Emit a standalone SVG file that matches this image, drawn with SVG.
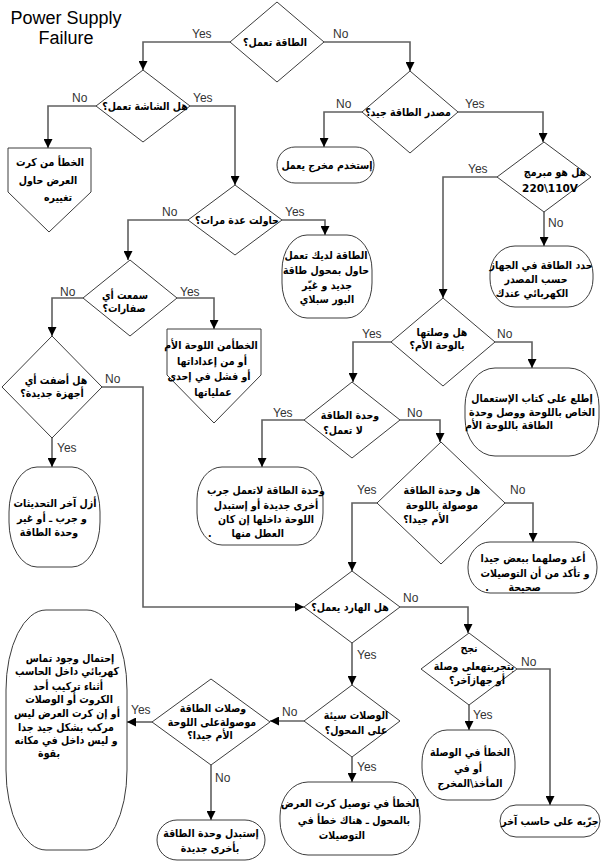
<svg xmlns="http://www.w3.org/2000/svg" width="602" height="863" viewBox="0 0 602 863">
<defs>
<marker id="arr" viewBox="0 0 10 10" refX="10" refY="5" markerWidth="9" markerHeight="9" orient="auto" markerUnits="userSpaceOnUse"><path d="M0,0 L10,5 L0,10 z" fill="#000"/></marker>
<style>
.s{fill:#fff;stroke:#3c3c3c;stroke-width:1}
.c{fill:none;stroke:#606060;stroke-width:1.6;marker-end:url(#arr)}
.l{font-family:"Liberation Sans",Arial,sans-serif;font-size:12px;fill:#333}
.t{font-family:"DejaVu Sans",sans-serif;font-size:11px;font-weight:bold;fill:#000;text-anchor:middle}
.ltr{font-size:10.5px}
.ti{font-family:"Liberation Sans",Arial,sans-serif;font-size:18px;fill:#000;text-anchor:middle}
</style>
</defs>
<rect width="602" height="863" fill="#fff"/>
<g id="title">
<text class="ti" x="66" y="24">Power Supply</text>
<text class="ti" x="66" y="44">Failure</text>
</g>
<g id="connectors">
<path class="c" d="M230,42 H143 V70"/>
<path class="c" d="M324,42 H410 V71"/>
<path class="c" d="M96,106 H48 V148"/>
<path class="c" d="M190,106 H235 V185"/>
<path class="c" d="M362,112 H324 V147"/>
<path class="c" d="M458,112 H543 V142"/>
<path class="c" d="M188,220 H128 V260"/>
<path class="c" d="M282,220 H325 V235"/>
<path class="c" d="M497,177 H443 V298"/>
<path class="c" d="M544,212 V246"/>
<path class="c" d="M83,298 H52 V336"/>
<path class="c" d="M177,298 H214 V329"/>
<path class="c" d="M52,438 V467"/>
<path class="c" d="M102,387 H143 V607 H304"/>
<path class="c" d="M391,342 H353 V382"/>
<path class="c" d="M495,342 H532 V368"/>
<path class="c" d="M304,420 H262 V467"/>
<path class="c" d="M400,420 H440 V442"/>
<path class="c" d="M377,503 H352 V571"/>
<path class="c" d="M505,503 H533 V542"/>
<path class="c" d="M400,607 H468 V633"/>
<path class="c" d="M352,643 V685"/>
<path class="c" d="M517,669 H550 V805"/>
<path class="c" d="M469,705 V730"/>
<path class="c" d="M304,721 H270"/>
<path class="c" d="M352,757 V782"/>
<path class="c" d="M152,722 H127"/>
<path class="c" d="M211,765 V820"/>
<text class="l" x="192" y="38">Yes</text>
<text class="l" x="333" y="38">No</text>
<text class="l" x="72" y="102">No</text>
<text class="l" x="193" y="102">Yes</text>
<text class="l" x="336" y="108">No</text>
<text class="l" x="465" y="108">Yes</text>
<text class="l" x="468" y="173">Yes</text>
<text class="l" x="548" y="227">No</text>
<text class="l" x="162" y="216">No</text>
<text class="l" x="285" y="216">Yes</text>
<text class="l" x="60" y="296">No</text>
<text class="l" x="180" y="296">Yes</text>
<text class="l" x="105" y="383">No</text>
<text class="l" x="57" y="452">Yes</text>
<text class="l" x="362" y="338">Yes</text>
<text class="l" x="497" y="338">No</text>
<text class="l" x="273" y="417">Yes</text>
<text class="l" x="407" y="417">No</text>
<text class="l" x="357" y="494">Yes</text>
<text class="l" x="510" y="494">No</text>
<text class="l" x="403" y="602">No</text>
<text class="l" x="357" y="659">Yes</text>
<text class="l" x="521" y="666">No</text>
<text class="l" x="473" y="719">Yes</text>
<text class="l" x="282" y="716">No</text>
<text class="l" x="357" y="771">Yes</text>
<text class="l" x="131" y="714">Yes</text>
<text class="l" x="215" y="782">No</text>
</g>
<g id="d1"><polygon class="s" points="277,2 324,42 277,82 230,42"/><text class="t" transform="translate(275 46) scale(.86 1)">الطاقة تعمل؟</text></g>
<g id="d2"><polygon class="s" points="143,70 190,106 143,142 96,106"/><text class="t" transform="translate(145 110) scale(.86 1)">هل الشاشة تعمل؟</text></g>
<g id="d3"><polygon class="s" points="410,71 458,112 410,153 362,112"/><text class="t" transform="translate(408 116) scale(.86 1)">مصدر الطاقة جيد؟</text></g>
<g id="b1"><path class="s" d="M8,148 H91 V192 L49,232 L8,192 Z"/><text class="t" transform="translate(50 166) scale(.86 1)">الخطأ من كرت</text><text class="t" transform="translate(48 184) scale(.86 1)">العرض حاول</text><text class="t" transform="translate(58 201) scale(.86 1)">تغييره</text></g>
<g id="r1"><rect class="s" x="277" y="147" width="97" height="36" rx="18"/><text class="t" transform="translate(327 169) scale(.86 1)">إستخدم مخرج يعمل</text></g>
<g id="d5"><polygon class="s" points="544,142 591,177 544,212 497,177"/><text class="t" transform="translate(555 176) scale(.86 1)">هل هو مبرمج</text><text class="t ltr" x="550" y="192">220\110V</text></g>
<g id="r2"><rect class="s" x="490" y="246" width="103" height="61" rx="25" ry="28"/><text class="t" transform="translate(541 269) scale(.86 1)">حدد الطاقة في الجهاز</text><text class="t" transform="translate(536 283) scale(.86 1)">حسب المصدر</text><text class="t" transform="translate(532 297) scale(.86 1)">الكهربائي عندك</text></g>
<g id="d4"><polygon class="s" points="235,185 282,220 235,255 188,220"/><text class="t" transform="translate(237 224) scale(.86 1)">حاولت عدة مرات؟</text></g>
<g id="r3"><rect class="s" x="282" y="235" width="90" height="83" rx="25" ry="35"/><text class="t" transform="translate(326 259) scale(.86 1)">الطاقة لديك تعمل</text><text class="t" transform="translate(326 274) scale(.86 1)">حاول بمحول طاقة</text><text class="t" transform="translate(327 289) scale(.86 1)">جديد و غيّر</text><text class="t" transform="translate(327 303) scale(.86 1)">البور سبلاي</text></g>
<g id="d7"><polygon class="s" points="130,260 177,298 130,336 83,298"/><text class="t" transform="translate(125 299) scale(.86 1)">سمعت أي</text><text class="t" transform="translate(124 312) scale(.86 1)">صفارات؟</text></g>
<g id="b2"><path class="s" d="M167,329 H261 V375 L214,423 L167,375 Z"/><text class="t" transform="translate(211 349) scale(.86 1)">الخطأمن اللوحة الأم</text><text class="t" transform="translate(212 365) scale(.86 1)">أو من إعداداتها</text><text class="t" transform="translate(209 380) scale(.86 1)">أو فشل في إحدى</text><text class="t" transform="translate(213 396) scale(.86 1)">عملياتها</text></g>
<g id="d8"><polygon class="s" points="52,336 102,387 52,438 2,387"/><text class="t" transform="translate(56 384) scale(.86 1)">هل أضفت أي</text><text class="t" transform="translate(52 397) scale(.86 1)">أجهزة جديدة؟</text></g>
<g id="r4"><rect class="s" x="9" y="467" width="91" height="100" rx="28" ry="45"/><text class="t" transform="translate(55 507) scale(.86 1)">أزل آخر التحديثات</text><text class="t" transform="translate(52 522) scale(.86 1)">و جرب ـ أو غير</text><text class="t" transform="translate(49 536) scale(.86 1)">وحدة الطاقة</text></g>
<g id="d6"><polygon class="s" points="443,298 495,342 443,386 391,342"/><text class="t" transform="translate(442 336) scale(.86 1)">هل وصلتها</text><text class="t" transform="translate(437 349) scale(.86 1)">بالوحة الأم؟</text></g>
<g id="r5"><rect class="s" x="465" y="368" width="134" height="88" rx="30" ry="38"/><text class="t" transform="translate(532 402) scale(.86 1)">إطلع على كتاب الإستعمال</text><text class="t" transform="translate(532 416) scale(.86 1)">الخاص باللوحة ووصل وحدة</text><text class="t" transform="translate(509 429) scale(.86 1)">الطاقة باللوحة الأم</text></g>
<g id="d9"><polygon class="s" points="352,382 400,420 352,458 304,420"/><text class="t" transform="translate(350 419) scale(.86 1)">وحدة الطاقة</text><text class="t" transform="translate(343 434) scale(.86 1)">لا تعمل؟</text></g>
<g id="r6"><rect class="s" x="197" y="467" width="126" height="78" rx="25" ry="32"/><text class="t" transform="translate(266 494) scale(.86 1)">وحدة الطاقة لاتعمل جرب</text><text class="t" transform="translate(266 509) scale(.86 1)">أخرى جديدة أو إستبدل</text><text class="t" transform="translate(266 523) scale(.86 1)">اللوحة داخلها إن كان</text><text class="t" transform="translate(246 537) scale(.86 1)" xml:space="preserve">.      العطل منها</text></g>
<g id="d10"><polygon class="s" points="441,442 505,503 441,564 377,503"/><text class="t" transform="translate(442 494) scale(.86 1)">هل وحدة الطاقة</text><text class="t" transform="translate(442 509) scale(.86 1)">موصولة باللوحة</text><text class="t" transform="translate(426 523) scale(.86 1)">الأم جيدا؟</text></g>
<g id="r7"><rect class="s" x="468" y="542" width="129" height="51" rx="22" ry="25"/><text class="t" transform="translate(533 562) scale(.86 1)">أعد وصلهما ببعض جيدا</text><text class="t" transform="translate(535 577) scale(.86 1)">و تأكد من أن التوصيلات</text><text class="t" transform="translate(513 591) scale(.86 1)" xml:space="preserve">.      صحيحة</text></g>
<g id="d11"><polygon class="s" points="352,571 400,607 352,643 304,607"/><text class="t" transform="translate(350 611) scale(.86 1)">هل الهارد يعمل؟</text></g>
<g id="d12"><polygon class="s" points="469,633 517,669 469,705 421,669"/><text class="t" transform="translate(469 652) scale(.86 1)">نجح</text><text class="t" transform="translate(474 670) scale(.86 1)">بتجربتهعلى وصلة</text><text class="t" transform="translate(477 684) scale(.86 1)">أو جهازآخر؟</text></g>
<g id="r8"><rect class="s" x="422" y="730" width="93" height="70" rx="25" ry="32"/><text class="t" transform="translate(470 756) scale(.86 1)">الخطأ في الوصلة</text><text class="t" transform="translate(468 772) scale(.86 1)">أو في</text><text class="t" transform="translate(470 787) scale(.86 1)">المأخذ\المخرج</text></g>
<g id="r9"><rect class="s" x="500" y="805" width="100" height="32" rx="16"/><text class="t" transform="translate(550 825) scale(.86 1)">جرّبه على حاسب آخر</text></g>
<g id="d13"><polygon class="s" points="352,685 400,721 352,757 304,721"/><text class="t" transform="translate(356 719) scale(.86 1)">الوصلات سيئة</text><text class="t" transform="translate(356 734) scale(.86 1)">على المحول؟</text></g>
<g id="r10"><rect class="s" x="280" y="782" width="140" height="73" rx="28" ry="34"/><text class="t" transform="translate(350 807) scale(.86 1)">الخطأ في توصيل كرت العرض</text><text class="t" transform="translate(354 824) scale(.86 1)">بالمحول ـ هناك خطأ في</text><text class="t" transform="translate(342 839) scale(.86 1)">التوصيلات</text></g>
<g id="d14"><polygon class="s" points="211,679 270,722 211,765 152,722"/><text class="t" transform="translate(213 712) scale(.86 1)">وصلات الطاقة</text><text class="t" transform="translate(212 726) scale(.86 1)">موصولةعلى اللوحة</text><text class="t" transform="translate(210 739) scale(.86 1)">الأم جيدا؟</text></g>
<g id="r11"><rect class="s" x="6" y="610" width="121" height="240" rx="40" ry="80"/><text class="t" transform="translate(70 662) scale(.86 1)">إحتمال وجود تماس</text><text class="t" transform="translate(67 675) scale(.86 1)">كهربائي داخل الحاسب</text><text class="t" transform="translate(68 690) scale(.86 1)">أثناء تركيب أحد</text><text class="t" transform="translate(69 703) scale(.86 1)">الكروت أو الوصلات</text><text class="t" transform="translate(67 717) scale(.86 1)">أو إن كرت العرض ليس</text><text class="t" transform="translate(66 731) scale(.86 1)">مركب بشكل جيد جدا</text><text class="t" transform="translate(66 744) scale(.86 1)">و ليس داخل في مكانه</text><text class="t" transform="translate(49 757) scale(.86 1)">بقوة</text></g>
<g id="r12"><rect class="s" x="157" y="820" width="108" height="40" rx="20"/><text class="t" transform="translate(211 837) scale(.86 1)">إستبدل وحدة الطاقة</text><text class="t" transform="translate(210 852) scale(.86 1)">بأخرى جديدة</text></g>
</svg>
